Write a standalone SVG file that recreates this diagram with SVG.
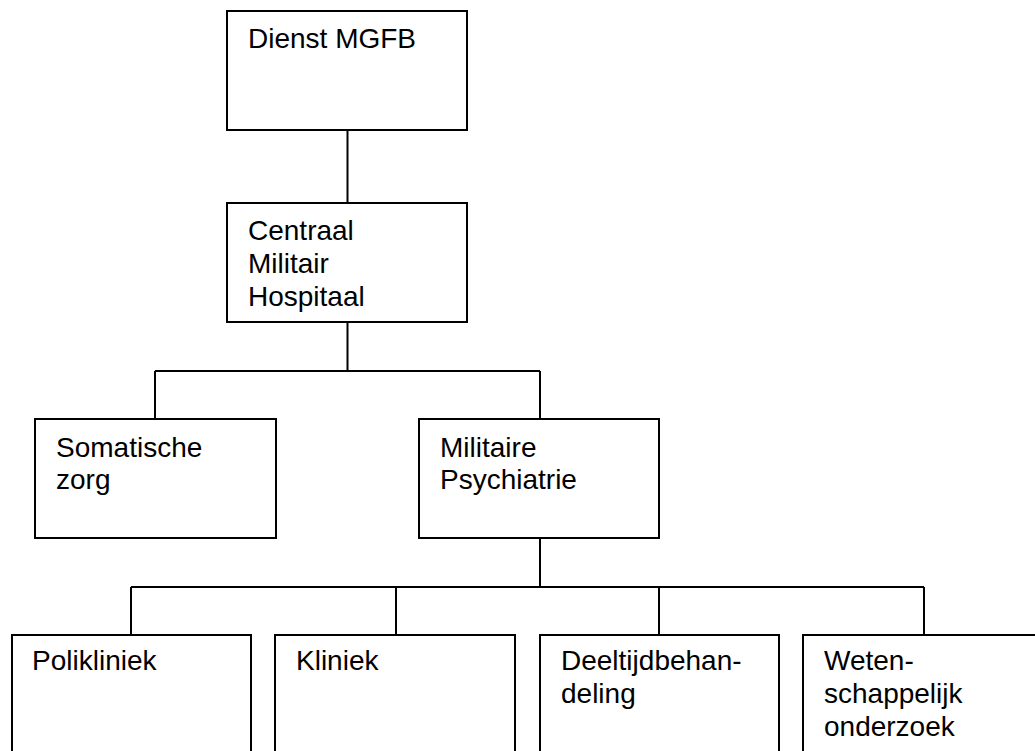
<svg xmlns="http://www.w3.org/2000/svg" width="1035" height="751" viewBox="0 0 1035 751">
<style>
.box{fill:#fff;stroke:#000;stroke-width:2}
.ln{fill:none;stroke:#000;stroke-width:2}
text{font-family:"Liberation Sans",Arial,sans-serif;font-size:28px;fill:#000}
</style>
<rect width="1035" height="751" fill="#fff"/>
<g id="connectors">
<path class="ln" d="M347.5 130V203"/>
<path class="ln" d="M347.5 322V371M155 371H540M155 371V419M540 371V419"/>
<path class="ln" d="M540 538V587M131 587H924M131 587V635M396 587V635M659 587V635M924 587V635"/>
</g>
<g id="dienst"><rect class="box" x="227" y="11" width="240" height="119"/><text x="248" y="48">Dienst MGFB</text></g>
<g id="cmh"><rect class="box" x="227" y="203" width="240" height="119"/><text x="248" y="240">Centraal</text><text x="248" y="273">Militair</text><text x="248" y="306">Hospitaal</text></g>
<g id="somatisch"><rect class="box" x="35" y="419" width="241" height="119"/><text x="56" y="457">Somatische</text><text x="56" y="489">zorg</text></g>
<g id="psych"><rect class="box" x="419" y="419" width="240" height="119"/><text x="440" y="457">Militaire</text><text x="440" y="489">Psychiatrie</text></g>
<g id="polikliniek"><rect class="box" x="12" y="635" width="239" height="130"/><text x="32" y="670">Polikliniek</text></g>
<g id="kliniek"><rect class="box" x="275" y="635" width="240" height="130"/><text x="296" y="670">Kliniek</text></g>
<g id="deeltijd"><rect class="box" x="540" y="635" width="239" height="130"/><text x="561" y="670">Deeltijdbehan-</text><text x="561" y="703">deling</text></g>
<g id="wetenschap"><rect class="box" x="803" y="635" width="250" height="130"/><text x="824" y="670">Weten-</text><text x="824" y="703">schappelijk</text><text x="824" y="736">onderzoek</text></g>
</svg>
